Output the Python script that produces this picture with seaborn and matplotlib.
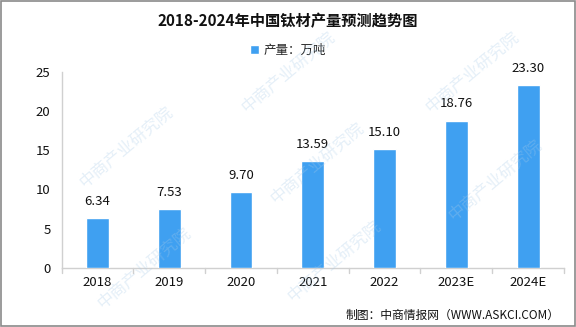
import matplotlib
matplotlib.use("Agg")
import matplotlib.pyplot as plt
import seaborn as sns
import pandas as pd

years = ["2018", "2019", "2020", "2021", "2022", "2023E", "2024E"]
output = [6.34, 7.53, 9.70, 13.59, 15.10, 18.76, 23.30]
y_ticks = [0, 5, 10, 15, 20, 25]

title = "2018-2024年中国钛材产量预测趋势图"
legend_label = "产量：万吨"
source = "制图：中商情报网（WWW.ASKCI.COM）"
watermark = "中商产业研究院"

sns.set_theme(style="white")
plt.rcParams["font.family"] = ["Noto Sans CJK SC", "DejaVu Sans"]

df = pd.DataFrame({"year": years, "value": output})
bar_color = "#3fa0f1"

fig = plt.figure(figsize=(5.76, 3.27), dpi=100)
ax = fig.add_axes([0.107, 0.1804, 0.872, 0.6003])

# faint diagonal watermark behind the chart
wm_pos = [(0.50, 0.78), (0.82, 0.78), (0.22, 0.55), (0.55, 0.50),
          (0.86, 0.45), (0.25, 0.18), (0.58, 0.20)]
for wx, wy in wm_pos:
    fig.text(wx, wy, watermark, rotation=40, fontsize=12, color="#a8cbe8",
             alpha=0.3, ha="center", va="center", zorder=0)

sns.barplot(data=df, x="year", y="value", color=bar_color, width=0.32,
            saturation=1, ax=ax, zorder=3, label=legend_label)

for i, v in enumerate(output):
    ax.text(i, v + 1.3, f"{v:.2f}", ha="center", va="bottom", fontsize=9.5,
            color="#111111", zorder=4)

ax.set_xlim(-0.5, len(years) - 0.5)
ax.set_ylim(0, 25)
ax.set_yticks(y_ticks)
ax.set_xlabel("")
ax.set_ylabel("")
ax.patch.set_alpha(0)

for side in ("top", "right"):
    ax.spines[side].set_visible(False)
for side in ("left", "bottom"):
    ax.spines[side].set_color("#d0d0d0")
    ax.spines[side].set_linewidth(1)

ax.tick_params(axis="y", length=0, labelsize=9.5, labelcolor="#111111", pad=8)
ax.tick_params(axis="x", length=0, labelsize=9.5, labelcolor="#111111", pad=6)
# tick marks between categories on the x axis
for b in [i + 0.5 for i in range(-1, len(years))]:
    ax.plot([b, b], [0, -0.6], color="#d0d0d0", lw=1, clip_on=False, zorder=2)

fig.text(0.5, 0.935, title, ha="center", va="center", fontsize=11,
         fontweight="bold", color="#111111")

leg = ax.legend(loc="center", bbox_to_anchor=(0.5, 0.845),
                bbox_transform=fig.transFigure, frameon=False, fontsize=9,
                handlelength=0.7, handleheight=0.7, handletextpad=0.4)

fig.text(0.972, 0.035, source, ha="right", va="center", fontsize=8.5,
         color="#111111")

# outer frame
frame = plt.Rectangle((0.001, 0.002), 0.997, 0.995, transform=fig.transFigure,
                      fill=False, edgecolor="#8a8a8a", lw=1.2)
fig.patches.append(frame)

fig.savefig("out.png", dpi=100)
